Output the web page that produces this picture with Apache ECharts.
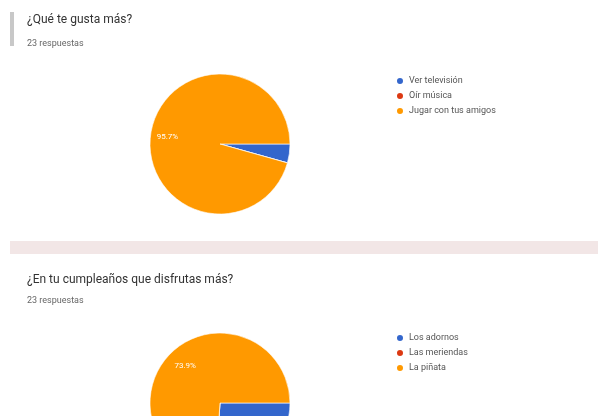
<!DOCTYPE html>
<html>
<head>
<meta charset="utf-8">
<script src="https://cdn.jsdelivr.net/npm/echarts@6/dist/echarts.min.js"></script>
<style>
html,body{margin:0;padding:0;background:#fff;}
#chart{width:598px;height:416px;}
</style>
</head>
<body>
<div id="chart"></div>
<script>
const q1Title = '¿Qué te gusta más?';
const q1Responses = '23 respuestas';
const q1Categories = ['Ver televisión', 'Oír música', 'Jugar con tus amigos'];
const q1Values = [1, 0, 22];

const q2Title = '¿En tu cumpleaños que disfrutas más?';
const q2Responses = '23 respuestas';
const q2Categories = ['Los adornos', 'Las meriendas', 'La piñata'];
const q2Values = [6, 0, 17];

const colors = ['#3366cc', '#dc3912', '#ff9900'];
const font = 'Roboto, "Noto Sans", sans-serif';

function toData(cats, vals) {
  return cats.map((c, i) => ({ name: c, value: vals[i], itemStyle: { color: colors[i] } }));
}

function pieSeries(cats, vals, center, labelRing, padTop) {
  return [{
    type: 'pie',
    center: center,
    radius: [0, 70],
    startAngle: 0,
    clockwise: true,
    percentPrecision: 1,
    label: { show: false },
    labelLine: { show: false },
    itemStyle: { borderColor: '#fff', borderWidth: 0.6 },
    emphasis: { disabled: true },
    data: toData(cats, vals)
  }, {
    type: 'pie',
    center: center,
    radius: [0, labelRing],
    startAngle: 0,
    clockwise: true,
    percentPrecision: 1,
    silent: true,
    legendHoverLink: false,
    emphasis: { disabled: true },
    itemStyle: { color: 'rgba(0,0,0,0)', borderWidth: 0 },
    label: {
      show: true,
      position: 'inside',
      color: '#fff',
      fontFamily: font,
      fontSize: 8,
      padding: [padTop, 0, 0, 0],
      formatter: p => (p.percent >= 5 ? p.percent.toFixed(1) + '%' : '')
    },
    labelLine: { show: false },
    data: cats.map((c, i) => ({ name: c, value: vals[i] }))
  }];
}

const chart = echarts.init(document.getElementById('chart'), null, { renderer: 'canvas' });
chart.setOption({
  animation: false,
  backgroundColor: '#fff',
  graphic: [
    { type: 'rect', shape: { x: 10, y: 12, width: 4, height: 34 }, style: { fill: '#c8c8c8' }, z: 0 },
    { type: 'rect', shape: { x: 10, y: 241, width: 588, height: 13 }, style: { fill: '#f2e6e6' }, z: 0 }
  ],
  title: [
    { text: q1Title, left: 22, top: 9, textStyle: { fontFamily: font, fontSize: 12, fontWeight: 'normal', color: '#333' } },
    { text: q1Responses, left: 22, top: 34, textStyle: { fontFamily: font, fontSize: 9, fontWeight: 'normal', color: '#666' } },
    { text: q2Title, left: 22, top: 269, textStyle: { fontFamily: font, fontSize: 12, fontWeight: 'normal', color: '#333' } },
    { text: q2Responses, left: 22, top: 291, textStyle: { fontFamily: font, fontSize: 9, fontWeight: 'normal', color: '#666' } }
  ],
  legend: [
    {
      data: q1Categories, orient: 'vertical', left: 390, top: 71, icon: 'circle',
      itemWidth: 8, itemHeight: 8, itemGap: 5, selectedMode: false,
      textStyle: { fontFamily: font, fontSize: 9, color: '#555', lineHeight: 10 }
    },
    {
      data: q2Categories, orient: 'vertical', left: 390, top: 328, icon: 'circle',
      itemWidth: 8, itemHeight: 8, itemGap: 5, selectedMode: false,
      textStyle: { fontFamily: font, fontSize: 9, color: '#555', lineHeight: 10 }
    }
  ],
  series: [
    ...pieSeries(q1Categories, q1Values, [220, 144], 100, 4),
    ...pieSeries(q2Categories, q2Values, [220, 403], 96, 10)
  ]
});
</script>
</body>
</html>
